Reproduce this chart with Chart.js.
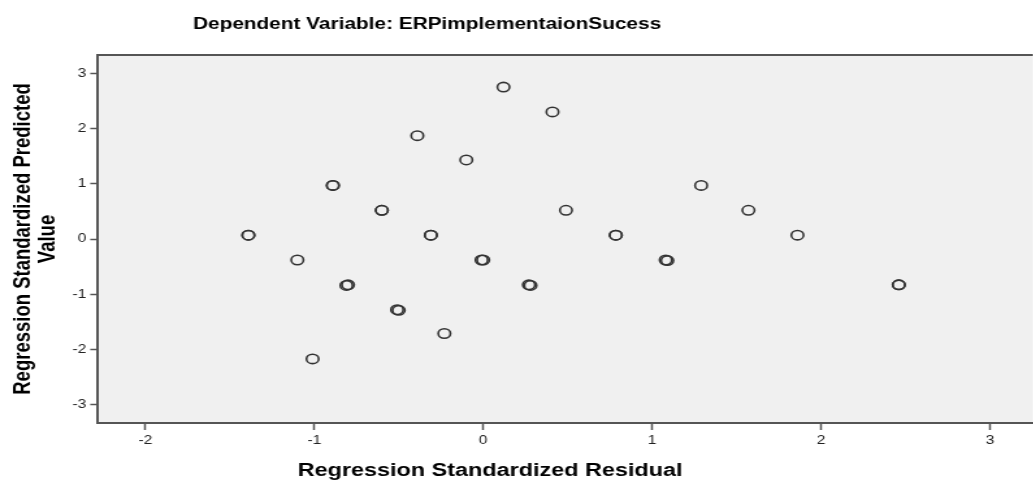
<!DOCTYPE html>
<html>
<head>
<meta charset="utf-8">
<script src="https://cdn.jsdelivr.net/npm/chart.js@4"></script>
<style>
  html, body { margin: 0; padding: 0; background: #fff; overflow: hidden; }
  #wrap { width: 801px; height: 483px; transform: scaleX(1.3); transform-origin: 0 0; }
</style>
</head>
<body>
<div id="wrap"><canvas id="c" width="801" height="483"></canvas></div>
<script>
// standardized residual (x) vs standardized predicted value (y), one entry per case
var residuals = [0.12, 0.41, -0.39, -0.10, -0.89, -0.89, -0.60, -0.60, 1.29, 0.49, 1.57,
                 -1.39, -1.39, -0.31, -0.31, 0.785, 0.785, 1.86, -1.10, -0.01, 0.00,
                 1.08, 1.09, -0.80, -0.81, 0.27, 0.28, 2.46, 2.46, -0.51, -0.50, -0.23, -1.01];
var predicted = [2.75, 2.30, 1.87, 1.43, 0.97, 0.97, 0.52, 0.52, 0.97, 0.52, 0.52,
                 0.07, 0.07, 0.07, 0.07, 0.07, 0.07, 0.07, -0.38, -0.38, -0.38,
                 -0.38, -0.39, -0.83, -0.84, -0.83, -0.84, -0.83, -0.83, -1.28, -1.29, -1.71, -2.17];

var xTicks = [-2, -1, 0, 1, 2, 3];
var yTicks = [-3, -2, -1, 0, 1, 2, 3];

var titleText = 'Dependent Variable: ERPimplementaionSucess';
var xTitle = 'Regression Standardized Residual';
var yTitle = ['Regression Standardized Predicted', 'Value'];

var points = residuals.map(function (x, i) { return { x: x, y: predicted[i] }; });

var frame = {
    id: 'frame',
    beforeDraw: function (chart) {
        var ctx = chart.ctx, a = chart.chartArea;
        ctx.save();
        ctx.fillStyle = '#f0f0f0';
        ctx.fillRect(a.left, a.top, a.right - a.left, a.bottom - a.top);
        ctx.strokeStyle = '#555';
        ctx.lineWidth = 2;
        ctx.beginPath();
        ctx.moveTo(a.left - 1, a.top);
        ctx.lineTo(a.right, a.top);
        ctx.stroke();
        ctx.restore();
    },
    afterDraw: function (chart) {
        var ctx = chart.ctx;
        ctx.save();
        ctx.fillStyle = '#000';
        ctx.textAlign = 'center';
        ctx.textBaseline = 'alphabetic';

        ctx.font = 'bold 16px "Liberation Sans", Arial, sans-serif';
        ctx.fillText(titleText, 328.5, 29);

        ctx.font = 'bold 18px "Liberation Sans", Arial, sans-serif';
        ctx.fillText(xTitle, 377, 476);

        ctx.font = 'bold 18.5px "Liberation Sans", Arial, sans-serif';
        ctx.translate(0, 239);
        ctx.rotate(-Math.PI / 2);
        ctx.fillText(yTitle[0], 0, 23);
        ctx.fillText(yTitle[1], 0, 42.3);
        ctx.restore();
    }
};

new Chart(document.getElementById('c').getContext('2d'), {
    type: 'scatter',
    data: {
        datasets: [{
            data: points,
            pointStyle: 'circle',
            pointRadius: 4.7,
            pointHoverRadius: 4.7,
            borderWidth: 1.6,
            borderColor: '#333',
            backgroundColor: 'rgba(0,0,0,0)'
        }]
    },
    options: {
        responsive: false,
        animation: false,
        events: [],
        layout: { padding: { top: 55, left: 0, right: 0, bottom: 0 } },
        plugins: { legend: { display: false }, tooltip: { enabled: false }, title: { display: false } },
        scales: {
            x: {
                type: 'linear',
                min: -2.28,
                max: 3.255,
                afterFit: function (s) { s.height = 60; s.paddingLeft = 0; s.paddingRight = 0; },
                afterBuildTicks: function (s) { s.ticks = xTicks.map(function (v) { return { value: v }; }); },
                grid: { drawOnChartArea: false, drawTicks: true, tickLength: 7, tickColor: '#555', tickWidth: 1.5 },
                border: { display: true, color: '#555', width: 2 },
                ticks: { color: '#222', padding: 3, font: { family: '"Liberation Sans", Arial, sans-serif', size: 12 } }
            },
            y: {
                type: 'linear',
                min: -3.33,
                max: 3.33,
                afterFit: function (s) { s.width = 75.4; s.paddingTop = 0; s.paddingBottom = 0; },
                afterBuildTicks: function (s) { s.ticks = yTicks.map(function (v) { return { value: v }; }); },
                grid: { drawOnChartArea: false, drawTicks: true, tickLength: 6, tickColor: '#555', tickWidth: 1.5 },
                border: { display: true, color: '#555', width: 2 },
                ticks: { color: '#222', padding: 3, font: { family: '"Liberation Sans", Arial, sans-serif', size: 12 } }
            }
        }
    },
    plugins: [frame]
});
</script>
</body>
</html>
